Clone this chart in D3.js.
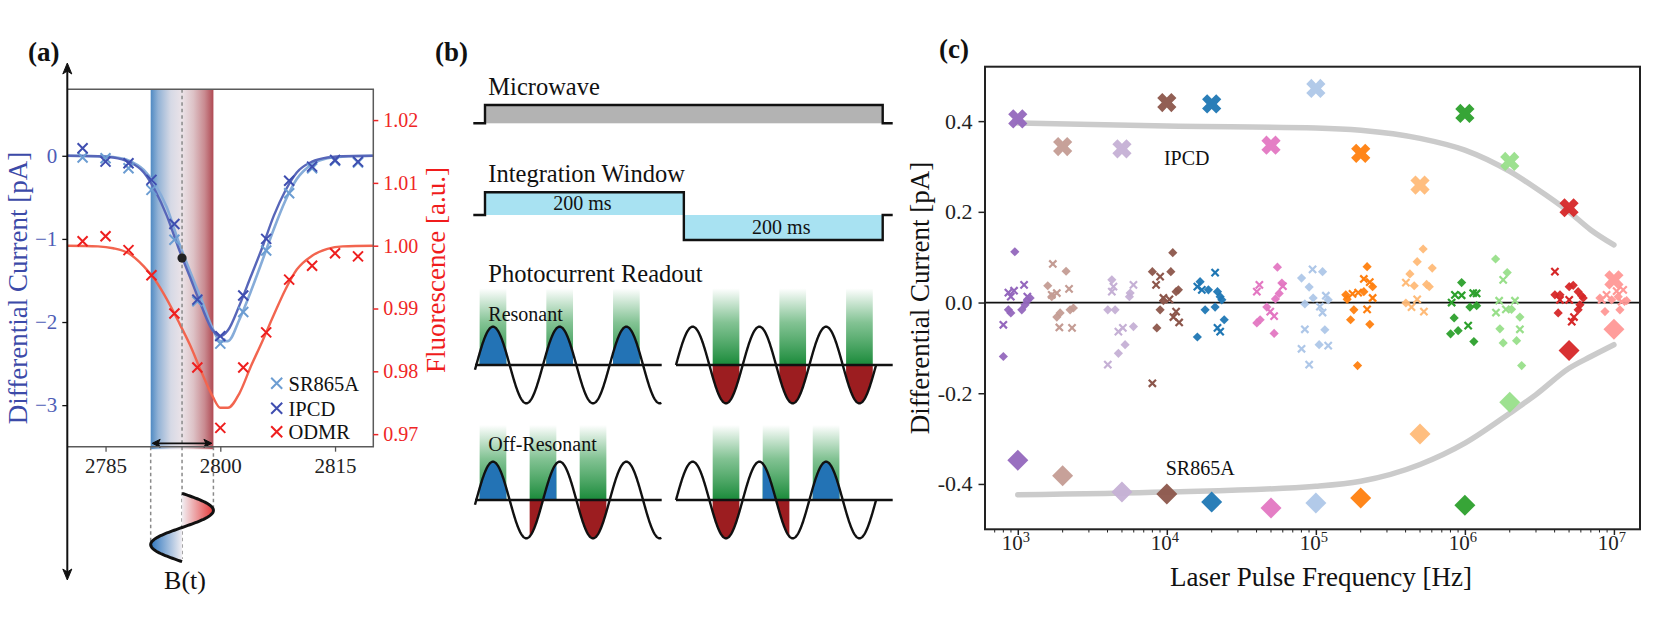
<!DOCTYPE html>
<html><head><meta charset="utf-8">
<script src="https://cdn.jsdelivr.net/npm/d3@7"></script>
<style>
body{margin:0;background:#fff;}
svg{display:block;font-family:"Liberation Serif","Times New Roman",serif;}
</style></head><body>
<svg id="chart" width="1660" height="627"></svg>
<script>
// ================= DATA : panel (a) =================
const aFreq   = [2782,2785,2788,2791,2794,2797,2800,2803,2806,2809,2812,2815,2818];
const aSR865A = [-0.02,-0.03,-0.15,-0.41,-1.01,-1.75,-2.26,-1.88,-1.14,-0.45,-0.15,-0.06,-0.08];
const aIPCD   = [0.09,-0.07,-0.09,-0.29,-0.82,-1.73,-2.17,-1.68,-1.00,-0.30,-0.13,-0.05,-0.07];
const aODMR   = [1.0007,1.0015,0.9993,0.9953,0.9892,0.9806,0.9710,0.9806,0.9862,0.9946,0.9968,0.9988,0.9983];
const aFitFreq = [2780,2784,2786,2788,2790,2791.5,2793,2794.5,2796,2797.5,2799,2800,2801,2802.5,2804,2805.5,2807,2808.5,2810,2812,2814,2816,2820];
const aFitIPCD = [0,-0.005,-0.02,-0.07,-0.2,-0.42,-0.72,-1.1,-1.45,-1.8,-2.1,-2.17,-2.1,-1.8,-1.45,-1.1,-0.72,-0.42,-0.2,-0.07,-0.02,-0.005,0];
const aFitSR865A = [0,-0.005,-0.015,-0.055,-0.17,-0.35,-0.62,-1.02,-1.38,-1.72,-2.08,-2.23,-2.23,-1.97,-1.63,-1.26,-0.88,-0.54,-0.28,-0.10,-0.03,-0.01,0];
const aFitODMR = [1.0,0.9999,0.9996,0.9988,0.9967,0.9945,0.9915,0.9880,0.9843,0.9800,0.9760,0.9742,0.9742,0.9765,0.9808,0.9848,0.9890,0.9930,0.9962,0.9984,0.9995,0.9999,1.0];
const aBand = [2790.9, 2799.1];      // modulation range (MHz)
const aBandCenter = 2795;
const aDot = [2795, -1.23];
const aXTicks = [2785,2800,2815];
const aYTicks = [0,-1,-2,-3];
const aY2Ticks = [0.97,0.98,0.99,1.00,1.01,1.02];
const aLegend = ["SR865A","IPCD","ODMR"];

// ================= DATA : panel (b) =================
const bWindows = [[0,200],[200,400]];        // ms
const bWindowLabels = ["200 ms","200 ms"];
const bPulsesResOn  = [0.25,1.25,2.25];      // laser pulse centres (cycles of B(t))
const bPulsesResOff = [0.75,1.75,2.75];
const bPulsesOffOn  = [0.25,1.0,1.75];
const bPulsesOffOff = [0.75,1.5,2.25];

// ================= DATA : panel (c) =================
const cFreq   = [1e3,2e3,5e3,1e4,2e4,5e4,1e5,2e5,5e5,1e6,2e6,5e6,1e7];
const cColors = ["#9467bd","#c49c94","#c5b0d5","#8c564b","#1f77b4","#e377c2","#aec7e8","#ff7f0e","#ffbb78","#2ca02c","#98df8a","#d62728","#ff9896"];
const cIPCD   = [0.405,0.344,0.339,0.441,0.438,0.347,0.472,0.329,0.259,0.417,0.311,0.209,0.050];
const cSR865A = [-0.348,-0.382,-0.418,-0.422,-0.440,-0.453,-0.442,-0.431,-0.290,-0.447,-0.220,-0.106,-0.059];
const cFitFreq = [1e3,1e4,1e5,2e5,5e5,1e6,2e6,3e6,5e6,7e6,1e7];
const cFitIPCD = [0.396,0.389,0.385,0.380,0.362,0.336,0.289,0.252,0.200,0.160,0.127];
const cFitSR865A = [-0.424,-0.418,-0.405,-0.394,-0.357,-0.310,-0.244,-0.203,-0.145,-0.119,-0.093];
// individual measurements: [group, frequency Hz, value pA]
const cSmallSR865A = [
 [0,955,0.112],[0,865,-0.016],[0,898,-0.023],[0,1064,-0.016],[0,1159,0.004],[0,1210,0.010],[0,1119,-0.005],[0,800,-0.119],
 [1,2109,0.069],[1,1589,0.037],[1,1690,0.013],[1,1828,-0.032],[1,1923,-0.023],[1,2244,-0.016],[1,2361,-0.012],
 [2,4276,0.050],[2,4018,-0.016],[2,4498,-0.016],[2,5248,-0.093],[2,4732,-0.112],[2,5610,0.013],[2,5675,0.021],[2,5971,-0.053],
 [3,10965,0.110],[3,8000,0.068],[3,10640,0.068],[3,11960,0.028],[3,11540,0.024],[3,9490,0.004],[3,9016,-0.016],[3,8570,-0.056],
 [4,16720,0.046],[4,19010,0.028],[4,21880,0.024],[4,22800,0.013],[4,23390,0.006],[4,21090,-0.010],[4,18070,-0.016],[4,24270,-0.038],[4,16030,-0.076],
 [5,55210,0.078],[5,59150,0.043],[5,56750,0.020],[5,53580,0.008],[5,46880,-0.010],[5,42280,-0.038],[5,40180,-0.045],[5,52480,-0.068],
 [6,110900,0.068],[6,80170,0.054],[6,90160,0.034],[6,95920,0.010],[6,121000,0.006],[6,84370,-0.003],[6,114900,-0.060],[6,105200,-0.093],
 [7,220800,0.079],[7,240400,0.035],[7,209900,0.024],[7,158800,0.017],[7,162200,0.007],[7,179900,-0.016],[7,171000,-0.038],[7,230100,-0.048],[7,190500,-0.139],
 [8,524800,0.118],[8,478600,0.090],[8,603900,0.076],[8,427600,0.063],[8,457100,0.037],[8,553400,0.040],[8,576800,0.035],[8,401800,-0.001],
 [9,951000,0.044],[9,1081000,-0.010],[9,1199000,-0.007],[9,847000,-0.034],[9,901000,-0.062],[9,802000,-0.069],[9,1149000,-0.086],
 [10,1607000,0.096],[10,1923000,0.066],[10,2057000,-0.015],[10,2339000,-0.032],[10,1718000,-0.058],[10,1807000,-0.089],[10,2223000,-0.084],[10,2404000,-0.139],
 [11,4018000,0.017],[11,5012000,0.035],[11,5333000,0.038],[11,5754000,0.024],[11,6067000,0.015],[11,6223000,0.010],[11,5916000,-0.005],[11,5754000,-0.016],[11,4227000,-0.023],[11,4345000,0.017],
 [12,8054000,0.010],[12,9660000,0.006],[12,10690000,0.013],[12,12170000,0.004],[12,8710000,-0.020],[12,10970000,-0.016]
];
const cSmallIPCD = [
 [0,865,0.022],[0,944,0.026],[0,1102,0.039],[0,898,0.013],[0,800,-0.049],[0,1159,0.013],
 [1,1718,0.085],[1,1690,0.017],[1,1828,0.021],[1,2208,0.030],[1,1901,-0.055],[1,2312,-0.056],
 [2,4385,0.035],[2,4276,0.024],[2,5070,-0.056],[2,4732,-0.064],[2,4018,-0.137],[2,5971,0.039],
 [3,9016,0.057],[3,8472,0.039],[3,9490,0.010],[3,10410,0.007],[3,11540,-0.020],[3,11070,-0.032],[3,12100,-0.044],[3,8000,-0.178],
 [4,21090,0.066],[4,16030,0.035],[4,17180,0.028],[4,21880,-0.056],[4,22800,-0.064],
 [5,41780,0.039],[5,40180,0.024],[5,60120,0.036],[5,49430,-0.020],[5,52480,-0.030],
 [6,95060,0.073],[6,116700,0.015],[6,106400,-0.009],[6,110900,-0.022],[6,84370,-0.059],[6,80170,-0.102],[6,121000,-0.095],[6,90160,-0.137],
 [7,209900,0.052],[7,230100,0.045],[7,192300,0.022],[7,176200,0.019],[7,240400,0.010],[7,220800,-0.015],
 [8,401800,0.044],[8,478600,0.007],[8,438500,-0.010],[8,530900,-0.020],
 [9,857000,0.017],[9,951000,0.016],[9,1137000,0.021],[9,1199000,0.020],[9,815000,0.000],[9,1052000,-0.051],
 [10,1807000,0.050],[10,1698000,0.004],[10,2168000,0.004],[10,1884000,-0.015],[10,1616000,-0.022],[10,2339000,-0.059],
 [11,4018000,0.068],[11,4345000,0.006],[11,5012000,0.006],[11,5395000,-0.032],[11,5212000,-0.042],
 [12,11540000,0.028],[12,8926000,0.017],[12,11270000,0.002],[12,8279000,0.006],[12,10430000,0.025]
];
const cYTicks = [-0.4,-0.2,0.0,0.2,0.4];
const cXTicks = [1e3,1e4,1e5,1e6,1e7];

// ================= DRAWING =================
const svg = d3.select("#chart");
svg.append("rect").attr("width",1660).attr("height",627).attr("fill","#fff");
const defs = svg.append("defs");
const SERIF = '"Liberation Serif","Times New Roman",serif';

function styleAxis(g, color, size){
  g.attr("font-family", SERIF).attr("font-size", size);
  g.select(".domain").remove();
  g.selectAll(".tick text").attr("fill", color);
}

// ---------- panel (a) ----------
const A = {l:67.3, r:373.3, t:89.3, b:446.7};
const xA = d3.scaleLinear().domain([2780,2820]).range([A.l,A.r]);
const yA = d3.scaleLinear().domain([-3.5,0.8]).range([A.b,A.t]);
const yA2 = d3.scaleLinear().domain([0.968,1.0249]).range([A.b,A.t]);
const gA = svg.append("g");

const bandGrad = defs.append("linearGradient").attr("id","bandGrad");
[[0,"#4f8ac3"],[0.12,"#93b3d6"],[0.32,"#d6d9e5"],[0.5,"#ebe3e8"],[0.68,"#ddc2c6"],[0.86,"#c98a90"],[1,"#b04a53"]]
  .forEach(s=>bandGrad.append("stop").attr("offset",s[0]).attr("stop-color",s[1]));
gA.append("rect").attr("x",xA(aBand[0])).attr("y",A.t).attr("width",xA(aBand[1])-xA(aBand[0]))
  .attr("height",A.b+2.5-A.t).attr("fill","url(#bandGrad)");

const lineA = d3.line().curve(d3.curveMonotoneX);
gA.append("path").attr("d",lineA(aFitFreq.map((f,i)=>[xA(f),yA2(aFitODMR[i])])))
  .attr("fill","none").attr("stroke","#f2654f").attr("stroke-width",2.4);
gA.append("path").attr("d",lineA(aFitFreq.map((f,i)=>[xA(f),yA(aFitSR865A[i])])))
  .attr("fill","none").attr("stroke","#86acd9").attr("stroke-width",2.6);
gA.append("path").attr("d",lineA(aFitFreq.map((f,i)=>[xA(f),yA(aFitIPCD[i])])))
  .attr("fill","none").attr("stroke","#5766b9").attr("stroke-width",2.4);

const xPath = r => `M${-r},${-r}L${r},${r}M${-r},${r}L${r},${-r}`;
function xMarks(data, yScale, color){
  gA.append("g").selectAll("path").data(aFreq).join("path")
    .attr("transform",(f,i)=>`translate(${xA(f)},${yScale(data[i])})`)
    .attr("d",xPath(5)).attr("stroke",color).attr("stroke-width",2).attr("fill","none");
}
xMarks(aSR865A, yA, "#6c9dd2");
xMarks(aIPCD, yA, "#3f4eb0");
xMarks(aODMR, yA2, "#ee1f1f");

// dashed guides
const dash = (x,y1,y2)=>gA.append("line").attr("x1",x).attr("x2",x).attr("y1",y1).attr("y2",y2)
  .attr("stroke","#8a8a8a").attr("stroke-width",1.5).attr("stroke-dasharray","3.5,3");
dash(xA(aBandCenter), A.t, 559);
dash(xA(aBand[0]), A.b, 544);
dash(xA(aBand[1]), A.b, 510);

gA.append("circle").attr("cx",xA(aDot[0])).attr("cy",yA(aDot[1])).attr("r",4.6).attr("fill","#222");

// double arrow
const arY = 443.3, ax0 = xA(aBand[0])+1.5, ax1 = xA(aBand[1])-1.5;
gA.append("line").attr("x1",ax0+2).attr("x2",ax1-2).attr("y1",arY).attr("y2",arY).attr("stroke","#111").attr("stroke-width",1.8);
gA.append("path").attr("d",`M${ax0},${arY}l8,-4l-2,4l2,4Z M${ax1},${arY}l-8,-4l2,4l-2,4Z`).attr("fill","#111").attr("stroke","#111").attr("stroke-width",1);

// B(t) waveform
const bCx = xA(aBandCenter), bAmp = xA(aBand[1])-xA(aBandCenter), bY0 = 493.3, bPer = 68.4;
const btGrad = defs.append("linearGradient").attr("id","btGrad").attr("gradientUnits","userSpaceOnUse")
  .attr("x1",bCx-bAmp).attr("x2",bCx+bAmp).attr("y1",0).attr("y2",0);
[[0,"#2f77bf"],[0.5,"#f1eef2"],[1,"#e63a3a"]].forEach(s=>btGrad.append("stop").attr("offset",s[0]).attr("stop-color",s[1]));
const btPts = d3.range(0,1.0001,0.01).map(p=>[bCx + bAmp*Math.sin(2*Math.PI*p), bY0 + p*bPer]);
gA.append("path").attr("d", d3.area().x0(bCx).x1(d=>d[0]).y(d=>d[1])(btPts)).attr("fill","url(#btGrad)");
gA.append("path").attr("d", d3.line()(btPts)).attr("fill","none").attr("stroke","#111").attr("stroke-width",3);
gA.append("text").attr("x",bCx+3).attr("y",589).attr("text-anchor","middle").attr("font-size",26).attr("fill","#111").text("B(t)");

// spines
gA.append("path").attr("d",`M${A.l},${A.t}H${A.r}V${A.b}H${A.l}`).attr("fill","none").attr("stroke","#5a5a5a").attr("stroke-width",1.5);
gA.append("line").attr("x1",A.l).attr("x2",A.l).attr("y1",70).attr("y2",573).attr("stroke","#111").attr("stroke-width",2);
gA.append("path").attr("d",`M${A.l},63l-4.5,11l4.5,-3l4.5,3Z M${A.l},580l-4.5,-11l4.5,3l4.5,-3Z`).attr("fill","#111").attr("stroke","#111");

// axes
const axBA = gA.append("g").attr("transform",`translate(0,${A.b})`)
  .call(d3.axisBottom(xA).tickValues(aXTicks).tickSize(5).tickPadding(6).tickFormat(d3.format("d")));
styleAxis(axBA,"#222",21); axBA.selectAll(".tick line").attr("stroke","#555").attr("stroke-width",1.3);
const axLA = gA.append("g").attr("transform",`translate(${A.l},0)`)
  .call(d3.axisLeft(yA).tickValues(aYTicks).tickSize(5).tickPadding(5).tickFormat(d=>d<0?"\u2212"+(-d):String(d)));
styleAxis(axLA,"#4e5db6",21); axLA.selectAll(".tick line").attr("stroke","#111").attr("stroke-width",1.3);
const axRA = gA.append("g").attr("transform",`translate(${A.r},0)`)
  .call(d3.axisRight(yA2).tickValues(aY2Ticks).tickSize(5).tickPadding(5).tickFormat(d3.format(".2f")));
styleAxis(axRA,"#ef2626",20); axRA.selectAll(".tick line").attr("stroke","#ef2626").attr("stroke-width",1.5);

gA.append("text").attr("transform","translate(27,288) rotate(-90)").attr("text-anchor","middle")
  .attr("font-size",27).attr("fill","#3c4aa8").text("Differential Current [pA]");
gA.append("text").attr("transform","translate(445,270) rotate(-90)").attr("text-anchor","middle")
  .attr("font-size",27).attr("fill","#f01c1c").text("Fluorescence [a.u.]");

// legend
const legCol = ["#6c9dd2","#3f4eb0","#ee1f1f"];
const legY = [383.3,408.3,431.7];
aLegend.forEach((t,i)=>{
  gA.append("path").attr("transform",`translate(276.7,${legY[i]})`).attr("d",xPath(5.5))
    .attr("stroke",legCol[i]).attr("stroke-width",2).attr("fill","none");
  gA.append("text").attr("x",288.5).attr("y",legY[i]+7.5).attr("font-size",20.5).attr("fill","#111").text(t);
});

// ---------- panel (b) ----------
const gB = svg.append("g");
const tB = d3.scaleLinear().domain([0,400]).range([485,882.7]);
const lead = 11.7;
// Microwave
gB.append("rect").attr("x",tB(0)).attr("y",105).attr("width",tB(400)-tB(0)).attr("height",18.3).attr("fill","#b3b3b3");
gB.append("path").attr("d",`M${tB(0)-lead},123.3H${tB(0)}V105H${tB(400)}V123.3H${tB(400)+10}`)
  .attr("fill","none").attr("stroke","#111").attr("stroke-width",2.4);
// Integration window
const winTop = [192.3,215], winBot = [215,240];
bWindows.forEach((w,i)=>{
  gB.append("rect").attr("x",tB(w[0])).attr("y",winTop[i]).attr("width",tB(w[1])-tB(w[0]))
    .attr("height",winBot[i]-winTop[i]).attr("fill","#a8e2f2");
  gB.append("text").attr("x",tB((w[0]+w[1])/2)-2).attr("y",i===0?210:234).attr("text-anchor","middle")
    .attr("font-size",20).attr("fill","#111").text(bWindowLabels[i]);
});
gB.append("path").attr("d",`M${tB(0)-lead},215H${tB(0)}V192.3H${tB(200)}V240H${tB(400)}V215H${tB(400)+10}`)
  .attr("fill","none").attr("stroke","#111").attr("stroke-width",2.4);
[["Microwave",95],["Integration Window",181.7],["Photocurrent Readout",281.7]].forEach(d=>
  gB.append("text").attr("x",488.3).attr("y",d[1]).attr("font-size",24.5).attr("fill","#111").text(d[0]));

// sine diagrams
const gGrad = defs.append("linearGradient").attr("id","greenGrad").attr("x1",0).attr("x2",0).attr("y1",0).attr("y2",1);
[[0,"#2a9647",0],[0.45,"#2f9a4b",0.6],[1,"#1a8a3a",1]].forEach(s=>gGrad.append("stop").attr("offset",s[0]).attr("stop-color",s[1]).attr("stop-opacity",s[2]));
const P = 66.7, amp = 38.3, barW = 0.4;
const sinePanels = [
  {x0:476.3, y0:365, from:-0.02, to:2.775, ax:[475,661.7], pulses:bPulsesResOn,  top:288.3},
  {x0:676,   y0:365, from:0,     to:3.0,   ax:[676,892.7], pulses:bPulsesResOff, top:288.3},
  {x0:476.3, y0:500, from:-0.02, to:2.775, ax:[475,661.7], pulses:bPulsesOffOn,  top:425},
  {x0:676,   y0:500, from:0,     to:3.0,   ax:[676,892.7], pulses:bPulsesOffOff, top:425}
];
sinePanels.forEach(sp=>{
  const xs = c=>sp.x0 + c*P, ys = c=>sp.y0 - amp*Math.sin(2*Math.PI*c);
  sp.pulses.forEach(pc=>{
    gB.append("rect").attr("x",xs(pc-barW/2)).attr("width",barW*P).attr("y",sp.top).attr("height",sp.y0-sp.top).attr("fill","url(#greenGrad)");
  });
  sp.pulses.forEach(pc=>{
    const cs = d3.range(pc-barW/2, pc+barW/2+1e-9, 0.004);
    gB.append("path").attr("d",d3.area().x(c=>xs(c)).y0(sp.y0).y1(c=>Math.min(ys(c),sp.y0))(cs)).attr("fill","#2373b5");
    gB.append("path").attr("d",d3.area().x(c=>xs(c)).y0(sp.y0).y1(c=>Math.max(ys(c),sp.y0))(cs)).attr("fill","#9c1d20");
  });
  gB.append("path").attr("d",d3.line().x(c=>xs(c)).y(c=>ys(c))(d3.range(sp.from,sp.to+1e-9,0.005)))
    .attr("fill","none").attr("stroke","#111").attr("stroke-width",2.4);
  gB.append("line").attr("x1",sp.ax[0]).attr("x2",sp.ax[1]).attr("y1",sp.y0).attr("y2",sp.y0).attr("stroke","#111").attr("stroke-width",2.4);
});
gB.append("text").attr("x",488.3).attr("y",320.7).attr("font-size",20).attr("fill","#111").text("Resonant");
gB.append("text").attr("x",488.3).attr("y",450.7).attr("font-size",20).attr("fill","#111").text("Off-Resonant");

// ---------- panel (c) ----------
const C = {l:985, r:1640, t:66.7, b:529.3};
const xC = d3.scaleLog().domain([Math.pow(10,2.78), Math.pow(10,7.175)]).range([C.l,C.r]);
const yC = d3.scaleLinear().domain([-0.5,0.52]).range([C.b,C.t]);
const gC = svg.append("g");
const lineC = d3.line().curve(d3.curveMonotoneX);
[cFitIPCD, cFitSR865A].forEach(v=>
  gC.append("path").attr("d",lineC(cFitFreq.map((f,i)=>[xC(f),yC(v[i])])))
    .attr("fill","none").attr("stroke","#cbcbcb").attr("stroke-width",5.5).attr("stroke-linecap","round"));
gC.append("line").attr("x1",C.l).attr("x2",C.r).attr("y1",yC(0)).attr("y2",yC(0)).attr("stroke","#111").attr("stroke-width",1.8);

const dPath = r=>`M0,${-r}L${r},0L0,${r}L${-r},0Z`;
gC.append("g").selectAll("path").data(cSmallSR865A).join("path")
  .attr("transform",d=>`translate(${xC(d[1])},${yC(d[2])})`).attr("d",dPath(4.6))
  .attr("fill",d=>cColors[d[0]]).attr("opacity",0.95);
gC.append("g").selectAll("path").data(cSmallIPCD).join("path")
  .attr("transform",d=>`translate(${xC(d[1])},${yC(d[2])})`).attr("d",xPath(3.6))
  .attr("stroke",d=>cColors[d[0]]).attr("stroke-width",2.2).attr("fill","none");

const L = 10, T = 3.6;
const bigX = `M${-T},${-L}H${T}V${-T}H${L}V${T}H${T}V${L}H${-T}V${T}H${-L}V${-T}H${-T}Z`;
gC.append("g").selectAll("path").data(cFreq).join("path")
  .attr("transform",(f,i)=>`translate(${xC(f)},${yC(cIPCD[i])}) rotate(45)`).attr("d",bigX)
  .attr("fill",(f,i)=>cColors[i]).attr("opacity",0.95);
gC.append("g").selectAll("path").data(cFreq).join("path")
  .attr("transform",(f,i)=>`translate(${xC(f)},${yC(cSR865A[i])})`).attr("d",dPath(10.5))
  .attr("fill",(f,i)=>cColors[i]).attr("opacity",0.95);

gC.append("text").attr("x",xC(1.36e4)).attr("y",yC(0.303)).attr("text-anchor","middle").attr("font-size",20).attr("fill","#111").text("IPCD");
gC.append("text").attr("x",xC(1.675e4)).attr("y",yC(-0.38)).attr("text-anchor","middle").attr("font-size",20).attr("fill","#111").text("SR865A");

// frame
gC.append("rect").attr("x",C.l).attr("y",C.t).attr("width",C.r-C.l).attr("height",C.b-C.t)
  .attr("fill","none").attr("stroke","#222").attr("stroke-width",2);
// y axis
const axLC = gC.append("g").attr("transform",`translate(${C.l},0)`)
  .call(d3.axisLeft(yC).tickValues(cYTicks).tickSize(6.5).tickPadding(6).tickFormat(d=>d.toFixed(1)));
styleAxis(axLC,"#222",22); axLC.selectAll(".tick line").attr("stroke","#222").attr("stroke-width",1.5);
// x axis: minor ticks
const minor = [];
for (let e=2;e<=7;e++) for (let m=2;m<=9;m++){ const v=m*Math.pow(10,e); if (v>=xC.domain()[0] && v<=xC.domain()[1]) minor.push(v); }
gC.append("g").selectAll("line").data(minor).join("line")
  .attr("x1",d=>xC(d)).attr("x2",d=>xC(d)).attr("y1",C.b).attr("y2",C.b+3.2).attr("stroke","#222").attr("stroke-width",1);
const axBC = gC.append("g").attr("transform",`translate(0,${C.b})`)
  .call(d3.axisBottom(xC).tickValues(cXTicks).tickSize(5.7).tickFormat(""));
axBC.select(".domain").remove(); axBC.selectAll(".tick line").attr("stroke","#222").attr("stroke-width",1.5);
cXTicks.forEach(f=>{
  const t = gC.append("text").attr("x",xC(f)-2).attr("y",550).attr("text-anchor","middle").attr("font-size",21).attr("fill","#222");
  t.append("tspan").text("10");
  t.append("tspan").attr("font-size",14.5).attr("dy",-8).text(String(Math.round(Math.log10(f))));
});
gC.append("text").attr("transform","translate(929,298) rotate(-90)").attr("text-anchor","middle")
  .attr("font-size",27).attr("fill","#111").text("Differential Current [pA]");
gC.append("text").attr("x",1321).attr("y",586).attr("text-anchor","middle")
  .attr("font-size",27).attr("fill","#111").text("Laser Pulse Frequency [Hz]");

// panel labels
[["(a)",28,61],["(b)",435,61],["(c)",939,58]].forEach(d=>
  svg.append("text").attr("x",d[1]).attr("y",d[2]).attr("font-size",27).attr("font-weight","bold").attr("fill","#111").text(d[0]));
</script>
</body></html>
